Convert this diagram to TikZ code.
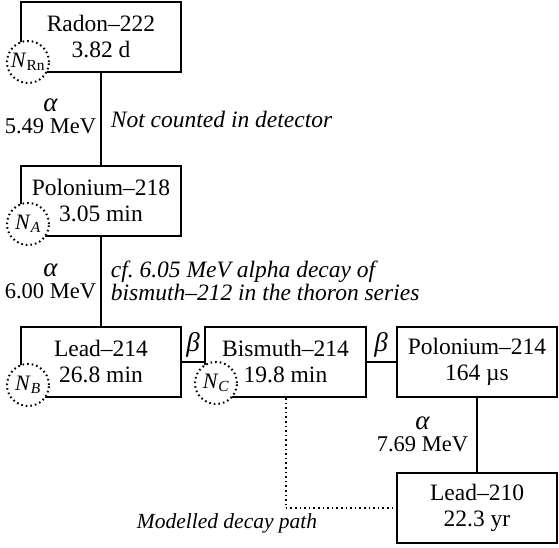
\documentclass[tikz,border=0pt]{standalone}
\usepackage{fontspec}
\setmainfont{Liberation Serif}
\frenchspacing
\newcommand{\grk}[1]{{\fontsize{27}{22}\selectfont\itshape #1}}
\begin{document}
\begin{tikzpicture}[x=1pt,y=-1pt, line width=1.8pt,
 box/.style={draw, rectangle, minimum width=160pt, minimum height=70pt, align=center, inner sep=0pt, font=\fontsize{23.5}{26}\selectfont},
 tag/.style={circle, draw, line width=2pt, dash pattern=on 1.6pt off 3pt, fill=white, minimum size=42pt, inner sep=0pt, font=\fontsize{22}{24}\selectfont},
 lab/.style={font=\fontsize{22.5}{22}\selectfont, align=center, inner sep=0pt},
 note/.style={font=\fontsize{23.5}{23}\selectfont\itshape, align=left, inner sep=0pt},
 link/.style={draw},
 path/.style={draw, line width=2pt, dash pattern=on 1.6pt off 3pt}]
\useasboundingbox (0,0) rectangle (559,548);
\node[box] (rn) at (101,37) {Radon–222\\3.82 d};
\node[box] (po218) at (101,201) {Polonium–218\\3.05 min};
\node[box] (pb214) at (101,362) {Lead–214\\26.8 min};
\node[box, minimum width=161pt] (bi214) at (285.5,362) {Bismuth–214\\19.8 min};
\node[box] (po214) at (477,362) {Polonium–214\\164 µs};
\node[box] (pb210) at (477,508) {Lead–210\\22.3 yr};
\draw[link] (rn) -- (po218);
\draw[link] (po218) -- (pb214);
\draw[link] (pb214) -- (bi214);
\draw[link] (bi214) -- (po214);
\draw[link] (po214) -- (pb210);
\draw[path] (bi214.south) |- (pb210.west);
\node[tag] (nrn) at (28,62) {\textit{N}\textsubscript{Rn}};
\node[tag] (na) at (28,224) {\textit{N}\textsubscript{\itshape A}};
\node[tag] (nb) at (28,385) {\textit{N}\textsubscript{\itshape B}};
\node[tag] (nc) at (216,383) {\textit{N}\textsubscript{\itshape C}};
\node[lab, anchor=east] (a1) at (97,116) {\grk{α}\\5.49 MeV};
\node[note, anchor=west] (n1) at (110,119) {Not counted in detector};
\node[lab, anchor=east] (a2) at (97,281) {\grk{α}\\6.00 MeV};
\node[note, anchor=west] (n2) at (110,281) {cf. 6.05 MeV alpha decay of\\bismuth–212 in the thoron series};
\node[lab] (b1) at (193,345) {\grk{β}};
\node[lab] (b2) at (381,345) {\grk{β}};
\node[lab, anchor=east] (a3) at (469,434) {\grk{α}\\7.69 MeV};
\node[note, anchor=west, font=\fontsize{21.5}{23}\selectfont\itshape] (m) at (136,523) {Modelled decay path};
\end{tikzpicture}
\end{document}
